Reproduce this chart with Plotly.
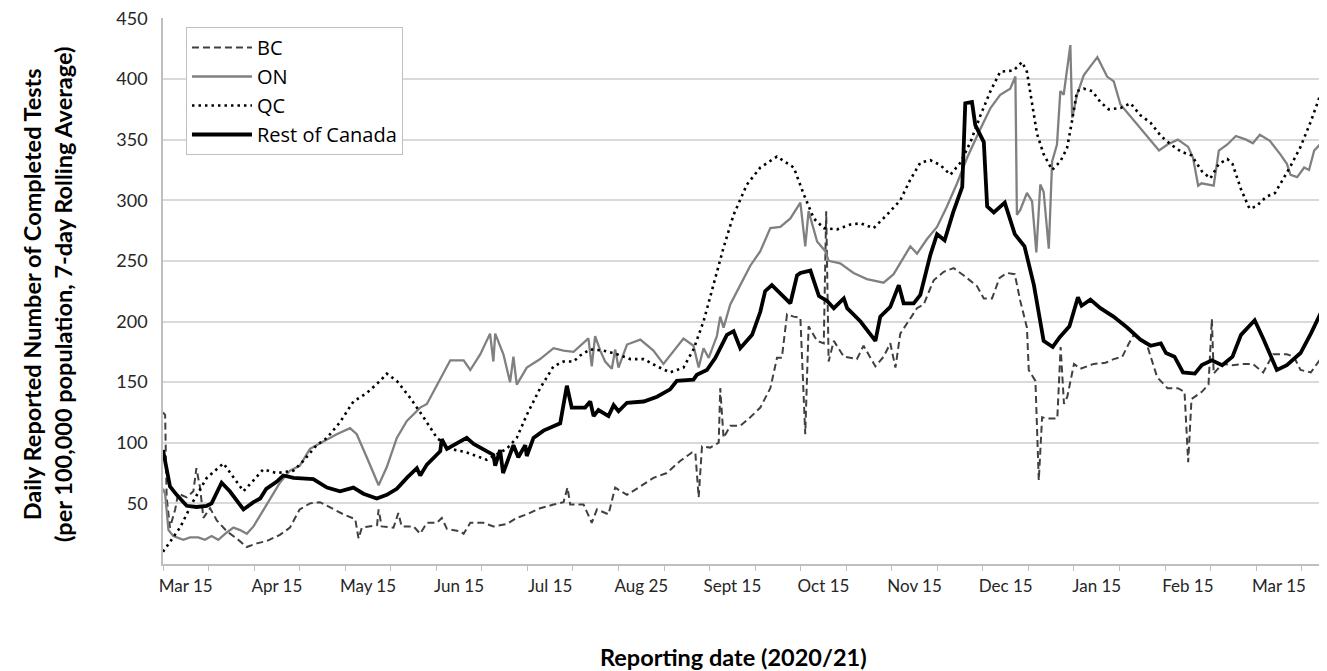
import plotly.graph_objects as go

# Day index 0 = first reporting day on the chart (early March 2020)
tick_days = [7.5 + 30 * i for i in range(13)]
tick_text = ["Mar 15", "Apr 15", "May 15", "Jun 15", "Jul 15", "Aug 25", "Sept 15",
             "Oct 15", "Nov 15", "Dec 15", "Jan 15", "Feb 15", "Mar 15"]
y_ticks = [50, 100, 150, 200, 250, 300, 350, 400, 450]

bc_days = [0, 0.7, 1.2, 2.3, 4, 5, 7.8, 10, 11, 12.2, 13.3, 15.5, 17.7, 21, 24.3, 27.6, 30.9, 34.2,
           38.5, 41.8, 45, 48.4, 51.7, 55, 59.4, 63.3, 64.4, 65.5, 68.2, 70.5, 71, 72, 75.9, 77.5,
           78.6, 82.5, 84.7, 86.9, 90.2, 91.8, 93.5, 97.9, 99, 101.2, 105.5, 108.8, 113.2, 116.5,
           119.8, 124.2, 128.6, 131.9, 133.2, 134.1, 138.5, 141.2, 142.9, 146.7, 148.9, 152.8,
           157.2, 161.5, 165.9, 170.3, 174.2, 175.3, 176.4, 177.5, 180.2, 183, 183.5, 184.6, 186.8,
           190.1, 193.4, 196.7, 200, 202.2, 203.8, 205.5, 207.7, 209.9, 211.5, 212.6, 215.4, 217.6,
           218.4, 219.2, 220.9, 224.2, 228.5, 230.7, 234.6, 237.3, 239.5, 241.2, 242.8, 246.1,
           248.3, 250.5, 253.8, 257.1, 260.4, 263.7, 268.1, 270.3, 273, 275.5, 278, 280.5, 282.3,
           284.5, 285.1, 287.3, 288.4, 289.5, 291.2, 294.5, 295.6, 296.7, 297.8, 300, 302.1, 306.5,
           310.4, 313.1, 315.9, 318.1, 319.7, 324, 325.2, 327.4, 330.8, 334.2, 336.4, 337.6, 338.7,
           342.1, 344.3, 345.4, 346, 348.8, 352.2, 355.5, 358.9, 362.3, 365.6, 370.1, 372.4, 374.6,
           378, 382]
bc_vals = [125, 123, 55, 30, 45, 58, 55, 60, 79, 63, 38, 46, 36, 27, 21, 14, 17, 19,
           24, 30, 45, 50, 51, 47, 41, 37, 21, 30, 31, 32, 45, 31, 30, 42,
           31, 31, 25, 34, 34, 38, 29, 27, 25, 34, 34, 31, 33, 38,
           41, 46, 49, 51, 63, 49, 49, 34, 45, 41, 63, 57,
           64, 71, 75, 85, 92, 92, 55, 97, 96, 100, 145, 104, 114,
           114, 121, 129, 145, 170, 170, 206, 204, 203, 107, 196, 184, 182,
           291, 167, 184, 171, 169, 180, 163, 171, 182, 162, 190, 203,
           211, 214, 234, 241, 244, 238, 229, 219, 219, 236, 240, 239, 217,
           195, 160, 151, 69, 121, 120, 120, 179, 132, 138, 165, 161, 165,
           166, 169, 171, 182, 189, 181, 171, 154, 145, 145, 142, 84, 136,
           142, 148, 202, 157, 165, 164, 165, 165, 158, 173, 173, 171, 160,
           158, 172]

on_days = [0, 0.7, 1.8, 3.4, 6.7, 8.9, 11.6, 13.8, 16, 18.2, 21, 23.2, 25.4, 27.6, 29.8, 32, 35.3,
           38.5, 41.8, 45, 48.4, 52.8, 57.2, 61.6, 63.8, 67.1, 71, 73.7, 77, 80.3, 84.7, 86.9, 90.2,
           94.6, 99, 101.2, 104.5, 107.7, 108.8, 109.4, 112.1, 114.3, 115.4, 116.5, 119.8, 124.2,
           128.6, 131.9, 135.2, 137.4, 140.1, 141.2, 142.3, 144, 145.6, 147.8, 148.9, 150, 152.8,
           157.2, 161.5, 164.8, 168.1, 171.4, 174.7, 176.4, 178, 179.7, 182.4, 183.5, 184.6, 186.8,
           190.1, 193.4, 196.7, 200, 203.3, 206.6, 209.9, 211.5, 212.6, 215.4, 218.1, 219.2, 223,
           227.4, 231.8, 237.3, 240.6, 242.8, 246.1, 248.3, 251.6, 254.9, 258.2, 261.5, 264.8,
           269.2, 272.5, 275.7, 279, 280.7, 281.2, 282.3, 284.5, 286.2, 287.6, 288.9, 290, 291.7,
           292.8, 294.4, 295.5, 296.6, 298.8, 299.4, 301, 303.2, 306, 307.7, 310.9, 313.1, 315.3,
           318.6, 321.9, 325.2, 328, 330.8, 334.2, 337.6, 339.2, 340.9, 342, 346, 347.7, 350.5,
           353.3, 356.7, 358.9, 361.2, 364.5, 367.9, 370.1, 371.3, 373.5, 375.8, 377.4, 379.1,
           381.4, 382]
on_vals = [62, 58, 28, 23, 20, 22, 22, 20, 23, 20, 26, 30, 28, 25, 31, 40, 53,
           67, 77, 81, 95, 101, 107, 112, 107, 88, 65, 80, 104, 118, 129, 132, 148,
           168, 168, 160, 173, 190, 167, 190, 173, 150, 171, 148, 162, 169,
           178, 176, 175, 180, 186, 163, 188, 176, 167, 161, 177, 162, 181,
           185, 176, 165, 176, 186, 180, 162, 178, 170, 188, 204, 195, 214,
           230, 246, 258, 277, 278, 285, 298, 262, 291, 266, 258, 250, 248,
           240, 235, 232, 239, 248, 262, 256, 268, 278, 295, 314, 335,
           359, 376, 387, 392, 402, 288, 292, 306, 299, 257, 313, 307, 260,
           332, 346, 390, 387, 428, 368, 387, 403, 412, 418, 402, 398, 379,
           369, 359, 349, 341, 346, 350, 344, 335, 312, 314, 312, 341, 346,
           353, 350, 347, 354, 349, 338, 330, 321, 319, 327, 325, 341,
           347, 346]

qc_days = [0, 3.4, 5.6, 10, 14.4, 19.9, 23.2, 26.5, 29.8, 33, 37.5, 43, 46.2, 50.6, 54, 58.3, 62.7,
           67.1, 71.5, 73.7, 77, 81.4, 85.8, 90.2, 94.6, 100, 106.6, 113.2, 116.5, 119.8, 124.2,
           128.6, 131.9, 135.2, 137.4, 140.7, 145.1, 149.5, 153.9, 158.3, 162.7, 167, 171.4, 174.7,
           178, 181.3, 184.6, 187.9, 192.3, 196.7, 202.2, 207.7, 211, 214.3, 217.6, 222, 226.4,
           229.7, 234, 238.4, 242.8, 246.1, 249.4, 252.7, 256, 259.3, 262.6, 265.9, 269.2, 272.5,
           275.7, 280.1, 282.9, 284.5, 286.2, 287.8, 290, 292.8, 295.5, 297.7, 299.4, 301, 303.2,
           306, 308.7, 311.4, 315.3, 318.6, 321.9, 325.2, 328.6, 331.9, 335.3, 338.7, 342.1, 344.9,
           347.7, 350.5, 352.2, 355, 357.8, 360, 363.4, 366.2, 369, 371.3, 374.6, 378, 382]
qc_vals = [10, 22, 30, 52, 71, 83, 72, 60, 69, 78, 75, 77, 85, 98, 104, 117, 134,
           141, 151, 157, 151, 137, 121, 104, 95, 92, 86, 95, 104, 123, 145,
           163, 167, 167, 172, 177, 176, 173, 169, 169, 163, 158, 162, 177,
           200, 230, 261, 288, 313, 327, 336, 327, 305, 285, 277, 276, 280,
           281, 277, 288, 300, 317, 331, 333, 329, 321, 331, 348, 370, 390,
           406, 407, 414, 406, 381, 355, 338, 325, 332, 343, 366, 390, 392,
           390, 381, 375, 376, 380, 370, 364, 353, 346, 340, 337, 324, 318,
           330, 334, 330, 309, 293, 295, 303, 306, 318, 328, 344, 365, 393]

roc_days = [0, 1, 2.3, 4.5, 7.8, 11, 14.4, 16, 19.3, 22, 26.5, 29.8, 32, 34, 37.5, 39.6, 43, 49.5,
            54, 58.3, 62.7, 66, 70.4, 73.7, 77, 80.3, 83.6, 84.7, 86.9, 91.3, 91.8, 93.5, 100,
            102.3, 105.5, 108.8, 109.4, 111, 112, 113.8, 115.4, 117, 119.3, 119.8, 122, 125.3, 128,
            130.8, 133, 134.6, 139, 140.7, 141.8, 143.4, 146.7, 148.4, 150, 152.8, 158.3, 162.7,
            167, 169.2, 174.7, 175.8, 179.1, 181.9, 185.7, 187.9, 190.1, 194, 196.7, 198.3, 200.5,
            203.3, 206.6, 208.8, 209.9, 213.2, 216, 218.7, 220.9, 224.2, 225.3, 229.7, 234.6,
            236.2, 239.5, 242.3, 243.9, 247.2, 249.4, 252.7, 254.9, 257.4, 260.2, 263.2, 264.2,
            266.4, 267.5, 270.3, 271.4, 273.6, 277.2, 280.5, 283.7, 286.8, 290, 293, 295.3, 298.5,
            301.3, 302.5, 305.4, 308.7, 313, 317.5, 321.9, 325.2, 328.6, 330.3, 333.1, 335.9,
            339.8, 342.1, 345.4, 348.8, 352.2, 355, 357.8, 359.5, 362.3, 366.8, 370.1, 374.6, 378,
            382]
roc_vals = [94, 80, 64, 57, 48, 47, 48, 50, 67, 60, 45, 51, 54, 62, 68, 73, 71, 70,
            63, 60, 63, 58, 54, 57, 62, 71, 79, 73, 82, 93, 103, 95, 104,
            99, 95, 90, 81, 94, 75, 88, 98, 88, 98, 89, 104, 110, 113,
            116, 147, 129, 129, 134, 122, 127, 122, 131, 126, 133, 134, 138,
            144, 151, 152, 156, 160, 170, 189, 192, 178, 189, 208, 225, 230,
            223, 215, 238, 240, 242, 221, 217, 211, 219, 211, 200, 184,
            204, 212, 230, 215, 215, 222, 255, 272, 267, 290, 311, 380,
            381, 362, 348, 295, 290, 298, 272, 262, 230, 184, 179, 187, 196,
            220, 213, 218, 211, 204, 195, 185, 180, 182, 174, 171, 158,
            157, 164, 168, 164, 171, 189, 196, 201, 186, 160, 164, 174, 190,
            211]

FONT = "Lato"
LEGEND_FONT = "Open Sans"

fig = go.Figure()
fig.add_trace(go.Scatter(x=bc_days, y=bc_vals, name="BC", mode="lines",
                         line=dict(color="#404040", width=2, dash="7px,4px")))
fig.add_trace(go.Scatter(x=on_days, y=on_vals, name="ON", mode="lines",
                         line=dict(color="#808080", width=2.3)))
fig.add_trace(go.Scatter(x=qc_days, y=qc_vals, name="QC", mode="lines",
                         line=dict(color="#000000", width=2.6, dash="2.5px,4px")))
fig.add_trace(go.Scatter(x=roc_days, y=roc_vals, name="Rest of Canada", mode="lines",
                         line=dict(color="#000000", width=3.8)))

# page body has an 8px margin, so the figure is sized 8px smaller than the window
fig.update_layout(
    width=1319, height=663,
    margin=dict(l=155, r=4, t=10, b=107, autoexpand=False),
    paper_bgcolor="white", plot_bgcolor="white",
    font=dict(family=FONT, color="#262626"),
    showlegend=True,
    legend=dict(x=0.0198, y=0.9835, xanchor="left", yanchor="top",
                bgcolor="white", bordercolor="#bfbfbf", borderwidth=1,
                font=dict(family=LEGEND_FONT, size=20, color="#000000"),
                tracegroupgap=0, itemwidth=60),
    xaxis=dict(range=[0, 382], tickmode="array", tickvals=tick_days, ticktext=tick_text,
               ticks="", showgrid=False, zeroline=False, automargin=False,
               showline=True, linecolor="#bfbfbf", linewidth=1.5,
               tickfont=dict(family=FONT, size=17, color="#262626"),
               ticklabelstandoff=6, ticklabeloverflow="allow",
               minor=dict(tickmode="linear", tick0=0, dtick=15, ticks="outside",
                          ticklen=5, tickcolor="#bfbfbf", showgrid=False)),
    yaxis=dict(range=[0, 450.3], tickmode="array", tickvals=y_ticks,
               ticks="", showgrid=True, gridcolor="#d9d9d9", gridwidth=1.5, zeroline=False,
               automargin=False,
               showline=True, linecolor="#bfbfbf", linewidth=1.5,
               tickfont=dict(family=FONT, size=18, color="#262626"),
               ticklabelstandoff=10, ticklabeloverflow="allow"),
    annotations=[
        dict(text="<b>Reporting date (2020/21)</b>", xref="paper", yref="paper",
             x=0.492, y=-0.170, xanchor="center", yanchor="middle", showarrow=False,
             font=dict(family=FONT, size=23.5, color="#000000")),
        dict(text="<b>Daily Reported Number of Completed Tests<br>(per 100,000 population, 7-day Rolling Average)</b>",
             xref="paper", yref="paper", x=-0.099, y=0.493, xanchor="center", yanchor="middle",
             textangle=-90, showarrow=False,
             font=dict(family=FONT, size=23.5, color="#000000")),
    ],
)

fig.write_html("out.html")
